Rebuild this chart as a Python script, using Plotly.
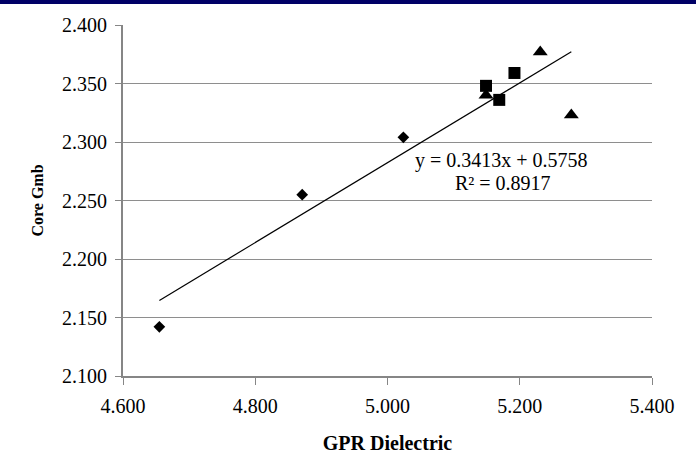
import plotly.graph_objects as go

# Data
diamond_x = [4.655, 4.871, 5.024]
diamond_y = [2.142, 2.255, 2.304]
square_x = [5.149, 5.169, 5.192]
square_y = [2.348, 2.336, 2.359]
triangle_x = [5.149, 5.231, 5.278]
triangle_y = [2.340, 2.377, 2.323]

slope = 0.3413
intercept = 0.5758
r_squared = 0.8917

x_ticks = [4.6, 4.8, 5.0, 5.2, 5.4]
y_ticks = [2.10, 2.15, 2.20, 2.25, 2.30, 2.35, 2.40]

all_x = diamond_x + square_x + triangle_x
trend_x = [min(all_x), max(all_x)]
trend_y = [slope * v + intercept for v in trend_x]

FONT = "Liberation Serif"

fig = go.Figure()
fig.add_trace(go.Scatter(x=diamond_x, y=diamond_y, mode="markers",
                         marker=dict(symbol="diamond", size=9, color="black"),
                         showlegend=False))
fig.add_trace(go.Scatter(x=triangle_x, y=triangle_y, mode="markers",
                         marker=dict(symbol="triangle-up", size=13, color="black"),
                         showlegend=False))
fig.add_trace(go.Scatter(x=square_x, y=square_y, mode="markers",
                         marker=dict(symbol="square", size=12, color="black"),
                         showlegend=False))
fig.add_trace(go.Scatter(x=trend_x, y=trend_y, mode="lines",
                         line=dict(color="black", width=1.2),
                         showlegend=False, hoverinfo="skip"))

fig.add_annotation(x=5.172, y=2.2839, xref="x", yref="y",
                   text=f"y = {slope:.4f}x + {intercept:.4f}", showarrow=False,
                   font=dict(family=FONT, size=20, color="black"))
fig.add_annotation(x=5.174, y=2.2646, xref="x", yref="y",
                   text=f"R² = {r_squared:.4f}", showarrow=False,
                   font=dict(family=FONT, size=20, color="black"))

# navy band at the top of the picture
fig.add_shape(type="rect", xref="paper", yref="paper",
              x0=-0.3, x1=1.2, y0=1.0598, y1=1.09,
              fillcolor="#000066", line=dict(width=0), layer="above")

fig.update_layout(
    width=696, height=454,
    margin=dict(l=123, r=44, t=25, b=78, autoexpand=False),
    paper_bgcolor="white", plot_bgcolor="white",
    font=dict(family=FONT, size=20, color="black"),
    xaxis=dict(range=[4.6, 5.4], tickvals=x_ticks, tickformat=".3f",
               automargin=False,
               showgrid=False, zeroline=False,
               showline=True, linecolor="#868686", linewidth=2,
               ticks="outside", ticklen=7, tickcolor="#868686", tickwidth=1,
               ticklabelstandoff=4,
               tickfont=dict(family=FONT, size=20, color="black"),
               title=dict(text="<b>GPR Dielectric</b>", standoff=20,
                          font=dict(family=FONT, size=20, color="black"))),
    yaxis=dict(range=[2.1, 2.4], tickvals=y_ticks, tickformat=".3f",
               automargin=False,
               showgrid=True, gridcolor="#8e8e8e", gridwidth=1,
               zeroline=False,
               showline=True, linecolor="#868686", linewidth=2,
               ticks="outside", ticklen=6, tickcolor="#868686", tickwidth=1,
               ticklabelstandoff=4,
               tickfont=dict(family=FONT, size=20, color="black"),
               title=dict(text="<b>Core Gmb</b>", standoff=14,
                          font=dict(family=FONT, size=16, color="black"))),
)

fig.write_html("out.html", config={"displayModeBar": False},
               post_script="document.body.style.margin='0';")
